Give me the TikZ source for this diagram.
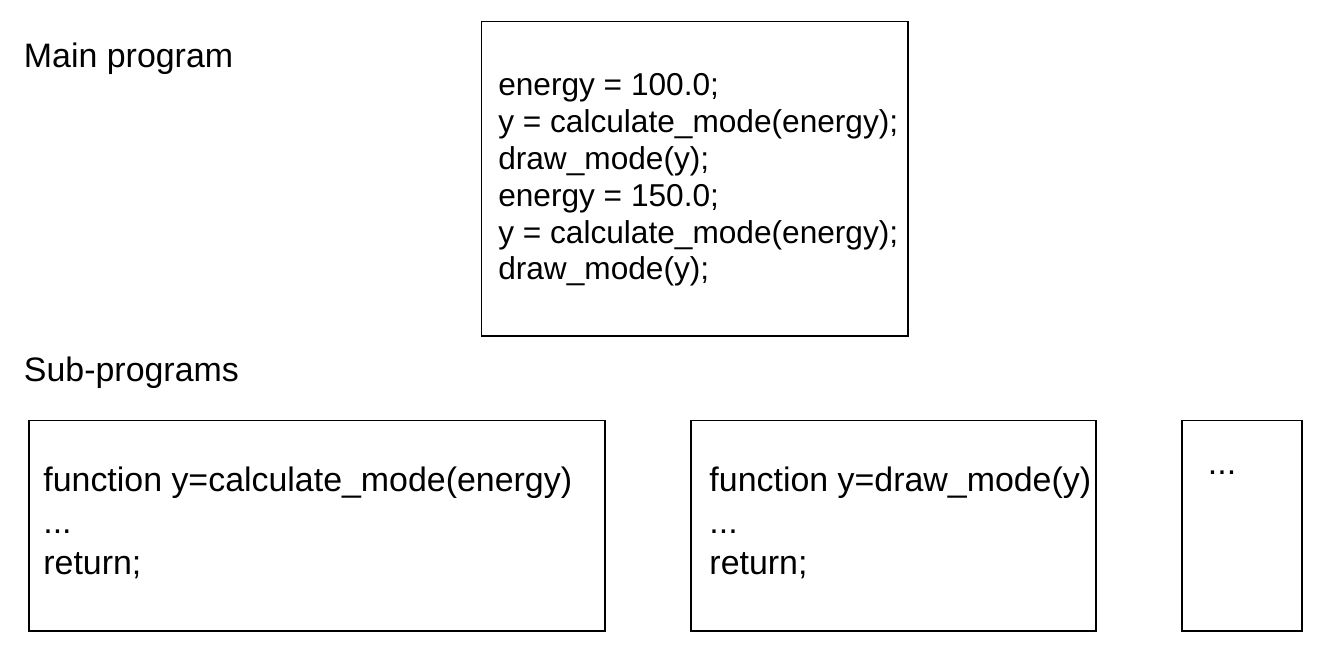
\documentclass[tikz,border=0pt]{standalone}
\usepackage{fontspec}
\setmainfont{Liberation Sans}
\begin{document}
\begin{tikzpicture}[line width=1.1pt,
        box/.style = {rectangle, draw,
            inner sep=0pt, outer sep=0pt
            },
        title/.style = {anchor=base west, inner sep=0pt,
            font=\fontsize{19.3}{23}\selectfont
            },
        code/.style = {anchor=base west, inner sep=0pt,
            font=\fontsize{18}{22}\selectfont
            },
        subcode/.style = {anchor=base west, inner sep=0pt,
            font=\fontsize{19.3}{23}\selectfont
            }]

    \useasboundingbox (0,0) rectangle (26.54,13.06);

    % Titles
    \node[title] (maintitle) at (0.46,11.71) {Main program};
    \node[title] (subtitle) at (0.46,5.43) {Sub-programs};

    % Main program
    \node[box, minimum width=8.53cm, minimum height=6.29cm] (main) at (13.895,9.485) {};
    \node[code] (m1) at (9.946,11.14) {energy = 100.0;};
    \node[code] (m2) at (9.946,10.404) {y = calculate\_mode(energy);};
    \node[code] (m3) at (9.946,9.668) {draw\_mode(y);};
    \node[code] (m4) at (9.946,8.932) {energy = 150.0;};
    \node[code] (m5) at (9.946,8.196) {y = calculate\_mode(energy);};
    \node[code] (m6) at (9.946,7.46) {draw\_mode(y);};

    % Sub-program calculate_mode
    \node[box, minimum width=11.52cm, minimum height=4.204cm] (calc) at (6.346,2.548) {};
    \node[subcode] (c1) at (0.848,3.22) {function y=calculate\_mode(energy)};
    \node[subcode] (c2) at (0.848,2.39) {...};
    \node[subcode] (c3) at (0.848,1.56) {return;};

    % Sub-program draw_mode
    \node[box, minimum width=8.106cm, minimum height=4.204cm] (draw) at (17.867,2.548) {};
    \node[subcode] (d1) at (14.17,3.22) {function y=draw\_mode(y)};
    \node[subcode] (d2) at (14.17,2.39) {...};
    \node[subcode] (d3) at (14.17,1.56) {return;};

    % Further sub-programs
    \node[box, minimum width=2.4cm, minimum height=4.204cm] (more) at (24.834,2.548) {};
    \node[subcode] (o1) at (24.14,3.56) {...};

\end{tikzpicture}
\end{document}
